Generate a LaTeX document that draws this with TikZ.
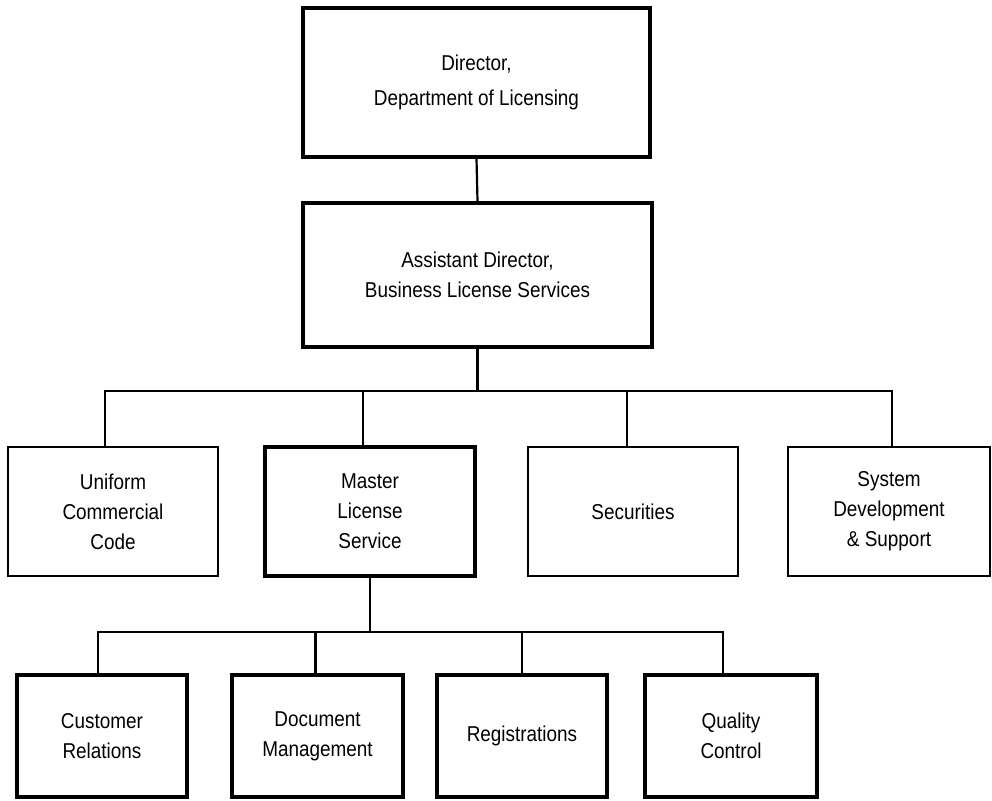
\documentclass[tikz,border=0pt]{standalone}
\usepackage{fontspec}
\setmainfont{Liberation Sans}[FakeStretch=0.88]
\begin{document}
\begin{tikzpicture}[x=1pt,y=-1pt,
  box/.style={draw, rectangle, inner sep=0pt, align=center, line width=2.2pt,
    font=\fontsize{21.5}{30}\selectfont},
  thickbox/.style={box, line width=3.5pt},
  conn/.style={line width=2.2pt}]
\useasboundingbox (0,0) rectangle (992,800);
% level 1 and 2
\node[thickbox, minimum width=347pt, minimum height=149pt,
  font=\fontsize{21.5}{35}\selectfont] (dir) at (476.5,82.5)
  {Director,\\Department of Licensing};
\node[thickbox, minimum width=349pt, minimum height=144pt] (asst) at (477.5,275)
  {Assistant Director,\\Business License Services};
% level 3
\node[box, minimum width=210pt, minimum height=129pt] (ucc) at (113,511.5)
  {Uniform\\Commercial\\Code};
\node[thickbox, minimum width=210pt, minimum height=129pt] (mls) at (370,511.5)
  {Master\\License\\Service};
\node[box, minimum width=210pt, minimum height=129pt] (sec) at (633,511.5)
  {Securities};
\node[box, minimum width=202pt, minimum height=129pt] (sys) at (889,511.5)
  {System\\Development\\\& Support};
% level 4
\node[thickbox, minimum width=170pt, minimum height=122pt] (cr) at (102,736)
  {Customer\\Relations};
\node[thickbox, minimum width=171pt, minimum height=122pt] (dm) at (317.5,736)
  {Document\\Management};
\node[thickbox, minimum width=170pt, minimum height=122pt] (reg) at (522,736)
  {Registrations};
\node[thickbox, minimum width=172pt, minimum height=122pt] (qc) at (731,736)
  {Quality\\Control};
% connectors
\coordinate (b1) at (479,391);
\coordinate (b2) at (368,632);
\draw[conn] (dir.south) -- (asst.north);
\draw[conn] (asst.south) -- (asst.south |- b1);
\draw[conn] ([xshift=-8pt]ucc.north) -- ([xshift=-8pt]ucc.north |- b1)
  -- ([xshift=3pt]sys.north |- b1) -- ([xshift=3pt]sys.north);
\draw[conn] ([xshift=-7pt]mls.north) -- ([xshift=-7pt]mls.north |- b1);
\draw[conn] ([xshift=-6pt]sec.north) -- ([xshift=-6pt]sec.north |- b1);
\draw[conn] (mls.south) -- (mls.south |- b2);
\draw[conn] ([xshift=-4pt]cr.north) -- ([xshift=-4pt]cr.north |- b2)
  -- ([xshift=-8pt]qc.north |- b2) -- ([xshift=-8pt]qc.north);
\draw[conn] ([xshift=-2pt]dm.north) -- ([xshift=-2pt]dm.north |- b2);
\draw[conn] (reg.north) -- (reg.north |- b2);
\end{tikzpicture}
\end{document}
